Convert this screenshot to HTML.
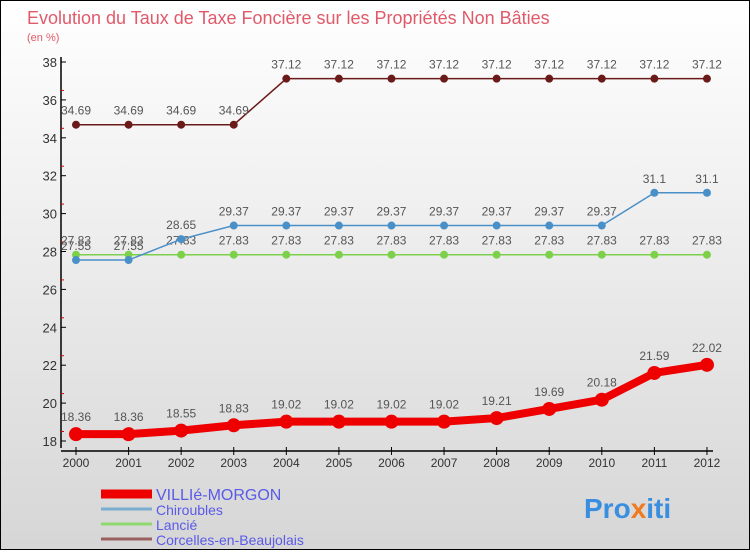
<!DOCTYPE html>
<html><head><meta charset="utf-8"><style>
body{margin:0;width:750px;height:550px;overflow:hidden;font-family:"Liberation Sans",sans-serif}
#c{position:absolute;left:0;top:0;width:748px;height:548px;border:1px solid #000;background:linear-gradient(#fff,#d6d6d6)}
</style></head><body>
<div id="c">
<svg id="s" width="750" height="550" xmlns="http://www.w3.org/2000/svg">
<text x="26" y="23" font-size="18" fill="#e05a6a">Evolution du Taux de Taxe Foncière sur les Propriétés Non Bâties</text>
<text x="26" y="40" font-size="11" fill="#e05a6a">(en %)</text>
<g id="g"></g>
<text x="583" y="517" font-size="28" font-weight="bold" fill="#3a8ee0">Pro<tspan fill="#f07a20">x</tspan>iti</text>
</svg></div>
<script>
const years=["2000","2001","2002","2003","2004","2005","2006","2007","2008","2009","2010","2011","2012"];
const villie=[18.36,18.36,18.55,18.83,19.02,19.02,19.02,19.02,19.21,19.69,20.18,21.59,22.02];
const chir=[27.55,27.55,28.65,29.37,29.37,29.37,29.37,29.37,29.37,29.37,29.37,31.1,31.1];
const lancie=[27.83,27.83,27.83,27.83,27.83,27.83,27.83,27.83,27.83,27.83,27.83,27.83,27.83];
const corc=[34.69,34.69,34.69,34.69,37.12,37.12,37.12,37.12,37.12,37.12,37.12,37.12,37.12];
const yTicks=[18,20,22,24,26,28,30,32,34,36,38];
const NS="http://www.w3.org/2000/svg",g=document.getElementById('g');
const X=i=>75+i*52.58, Y=v=>440-(v-18)*18.95;
function el(t,a){const e=document.createElementNS(NS,t);for(const k in a)e.setAttribute(k,a[k]);g.appendChild(e);return e;}
let ax=el('line',{x1:60,y1:56,x2:60,y2:447,stroke:'#000','stroke-width':1.5});

let bx=el('line',{x1:60,y1:450,x2:712,y2:450,stroke:'#000','stroke-width':1.5});

yTicks.forEach(v=>{const y=Y(v);
 el('line',{x1:60,y1:y,x2:65,y2:y,stroke:'#000'});
 if(v<38)el('line',{x1:60,y1:y-9.5,x2:63,y2:y-9.5,stroke:'#d00'});
 const t=el('text',{x:56,y:y+5,'font-size':13,fill:'#333','text-anchor':'end'});t.textContent=v;
 });
years.forEach((yr,i)=>{el('line',{x1:X(i),y1:446,x2:X(i),y2:454,stroke:'#000'});
 const t=el('text',{x:X(i),y:466,'font-size':12,fill:'#333','text-anchor':'middle'});t.textContent=yr;
 });
function series(d,col,w,r,name){
 const p=el('polyline',{points:d.map((v,i)=>X(i)+','+Y(v)).join(' '),fill:'none',stroke:col,'stroke-width':w});
 
 d.forEach((v,i)=>{const c=el('circle',{cx:X(i),cy:Y(v),r:r,fill:col});
  
  const t=el('text',{x:X(i),y:Y(v)-r-6,'font-size':12,fill:'#555','text-anchor':'middle'});t.textContent=v.toFixed(2).replace(/0$/,'').replace(/\.0?$/,'');
  });
}
series(corc,'#6b1a1a',1.5,4,'corcelles');
series(lancie,'#7cd04a',1.5,4,'lancie');
series(chir,'#4a90c8',1.5,4,'chiroubles');
series(villie,'#ee0000',8,7,'villie-morgon');
const leg=[['VILLIé-MORGON','#ee0000',9,16],['Chiroubles','#7aaed0',3,14],['Lancié','#90d870',3,14],['Corcelles-en-Beaujolais','#9a6060',3,14]];
leg.forEach((l,i)=>{const y=493+i*15;
 el('line',{x1:100,y1:y,x2:151,y2:y,stroke:l[1],'stroke-width':l[2]});
 const t=el('text',{x:155,y:y+6,'font-size':l[3],fill:'#5a5ae8'});t.textContent=l[0];
 });
</script></body></html>
